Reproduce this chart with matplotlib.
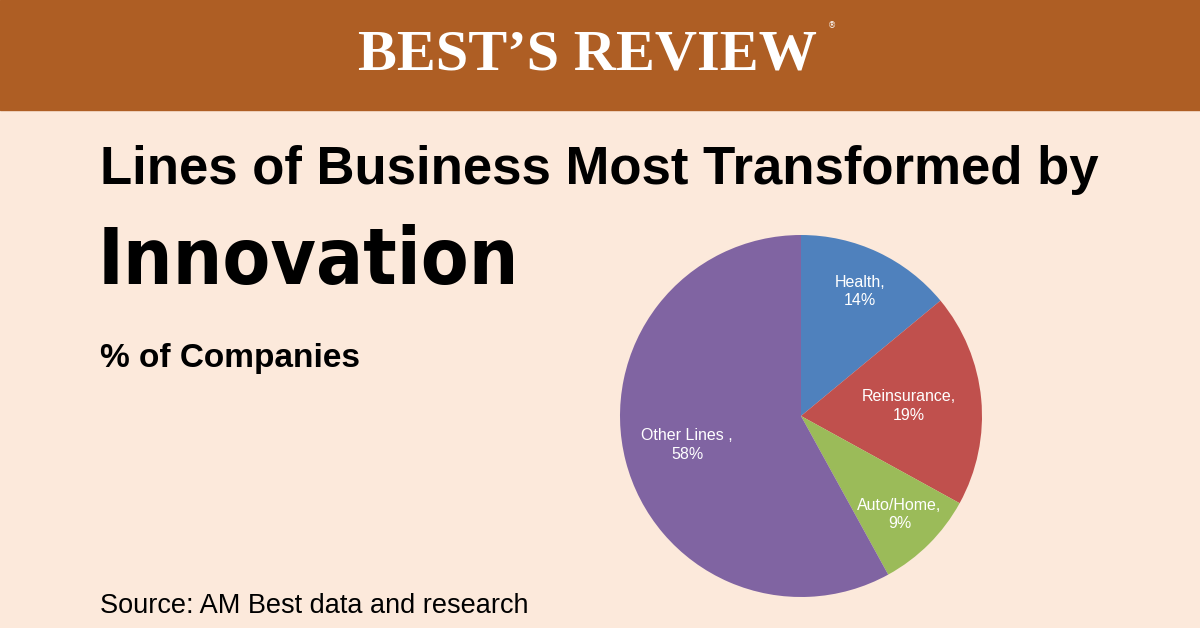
import matplotlib
matplotlib.use("Agg")
import matplotlib.pyplot as plt
import numpy as np

categories = ["Health", "Reinsurance", "Auto/Home", "Other Lines "]
values = [14, 19, 9, 58]
colors = ["#4F81BD", "#C0504D", "#9BBB59", "#8064A2"]
label_r = [0.76, 0.60, 0.77, 0.65]

W, H = 1200, 628
fig = plt.figure(figsize=(W/100, H/100), dpi=100)
fig.patch.set_facecolor("#FCE9DB")
bg = fig.add_axes([0, 0, 1, 1]); bg.set_xlim(0, W); bg.set_ylim(H, 0); bg.axis("off")
bg.add_patch(plt.Rectangle((0, 0), W, 110, color="#AE5E24"))
bg.text(587, 56, "BEST’S REVIEW", ha="center", va="center", color="white",
        family="Liberation Serif", weight="bold", fontsize=42)
bg.text(832, 26, "®", ha="center", va="center", color="white", fontsize=6)
bg.text(100, 170, "Lines of Business Most Transformed by", ha="left", va="center",
        family="Liberation Sans", weight="bold", fontsize=38)
bg.text(98, 262, "Innovation", ha="left", va="center",
        family="DejaVu Sans", stretch="condensed", weight="bold", fontsize=56)
bg.text(100, 358, "% of Companies", ha="left", va="center",
        family="Liberation Sans", weight="bold", fontsize=24)
bg.text(100, 606, "Source: AM Best data and research", ha="left", va="center",
        family="Liberation Sans", fontsize=19.5)

cx, cy, R = 801, 416, 181
ax = fig.add_axes([(cx-R)/W, (H-cy-R)/H, 2*R/W, 2*R/H])
wedges, _ = ax.pie(values, colors=colors, startangle=90, counterclock=False, radius=1,
                   wedgeprops=dict(linewidth=0))
ax.set_xlim(-1, 1); ax.set_ylim(-1, 1); ax.set_aspect("auto")
for w, c, v, r in zip(wedges, categories, values, label_r):
    ang = np.deg2rad((w.theta1 + w.theta2) / 2)
    ax.text(r*np.cos(ang), r*np.sin(ang), f"{c},\n{v}%", ha="center", va="center",
            color="white", family="Liberation Sans", fontsize=11.5, linespacing=1.3)
fig.savefig("out.png", dpi=100, facecolor=fig.get_facecolor())
